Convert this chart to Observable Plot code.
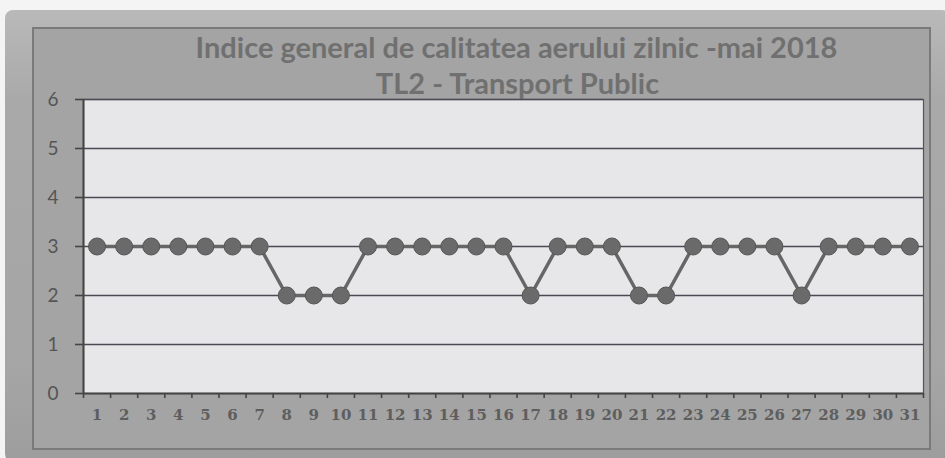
<!DOCTYPE html>
<html>
<head>
<meta charset="utf-8">
<script src="https://cdn.jsdelivr.net/npm/d3@7"></script>
<script src="https://cdn.jsdelivr.net/npm/@observablehq/plot@0.6"></script>
<style>
  html, body { margin: 0; padding: 0; background: #f4f4f4; width: 945px; height: 458px; overflow: hidden; }
  #outer { position: absolute; left: 5px; top: 10px; width: 945px; height: 452px;
           background: linear-gradient(to bottom, #b9b9b9, #a9a9a9 20%, #a5a5a5 80%, #9d9d9d);
           border-radius: 8px; }
  #inner { position: absolute; left: 32px; top: 27px; width: 899px; height: 423px;
           background: #a4a4a4; border: 2px solid #7a7a7a; box-sizing: border-box; }
  #chart { position: absolute; left: 0; top: 0; }
</style>
</head>
<body>
<div id="outer"></div>
<div id="inner"></div>
<div id="chart"></div>
<script>
const days = [1,2,3,4,5,6,7,8,9,10,11,12,13,14,15,16,17,18,19,20,21,22,23,24,25,26,27,28,29,30,31];
const values = [3,3,3,3,3,3,3,2,2,2,3,3,3,3,3,3,2,3,3,3,2,2,3,3,3,3,2,3,3,3,3];
const yTicks = [0,1,2,3,4,5,6];
const titleLines = ["Indice general de calitatea aerului zilnic -mai 2018", "TL2 - Transport Public"];

const data = days.map((d, i) => ({day: d, value: values[i]}));
const boundaries = days.map(d => d - 0.5).concat([days[days.length - 1] + 0.5]);

const chart = Plot.plot({
  width: 945,
  height: 458,
  marginLeft: 83,
  marginRight: 22,
  marginTop: 99,
  marginBottom: 65,
  style: {background: "transparent", overflow: "visible"},
  x: {domain: [0.5, 31.5], axis: null},
  y: {domain: [0, 6], axis: null},
  marks: [
    Plot.frame({fill: "#e7e7e9", stroke: "#555", strokeWidth: 1.2}),
    Plot.ruleY(yTicks.filter(t => t > 0), {stroke: "#4a4a55", strokeWidth: 1.6}),
    Plot.axisY({ticks: yTicks, tickSize: 8, tickPadding: 17, tickFormat: d => String(d), label: null,
                fontSize: 19, fontFamily: "Lato, 'Open Sans', sans-serif", fill: "#555", stroke: "#444", strokeWidth: 1.6}),
    Plot.axisX({ticks: boundaries, tickSize: 5, tickFormat: () => "", label: null, stroke: "#444", strokeWidth: 1.6}),
    Plot.axisX({ticks: days, tickSize: 0, tickPadding: 16, tickFormat: d => String(d), label: null,
                fontSize: 15, fontWeight: "bold", fontFamily: "'DejaVu Serif', 'Liberation Serif', serif", fill: "#5e5e5e"}),
    Plot.ruleX([0.5], {stroke: "#444", strokeWidth: 2}),
    Plot.ruleY([0], {stroke: "#444", strokeWidth: 2}),
    Plot.line(data, {x: "day", y: "value", stroke: "#666", strokeWidth: 3.5}),
    Plot.dot(data, {x: "day", y: "value", r: 8.5, fill: "#6a6a6a", stroke: "#555", strokeWidth: 1}),
    Plot.text([titleLines[0]], {frameAnchor: "top", lineAnchor: "middle", dx: 13, dy: -51, text: d => d,
               fontSize: 29, fontWeight: "bold", fontFamily: "Lato, 'Open Sans', sans-serif", fill: "#707070"}),
    Plot.text([titleLines[1]], {frameAnchor: "top", lineAnchor: "middle", dx: 14, dy: -15, text: d => d,
               fontSize: 29, fontWeight: "bold", fontFamily: "Lato, 'Open Sans', sans-serif", fill: "#707070"})
  ]
});
document.getElementById("chart").appendChild(chart);
</script>
</body>
</html>
